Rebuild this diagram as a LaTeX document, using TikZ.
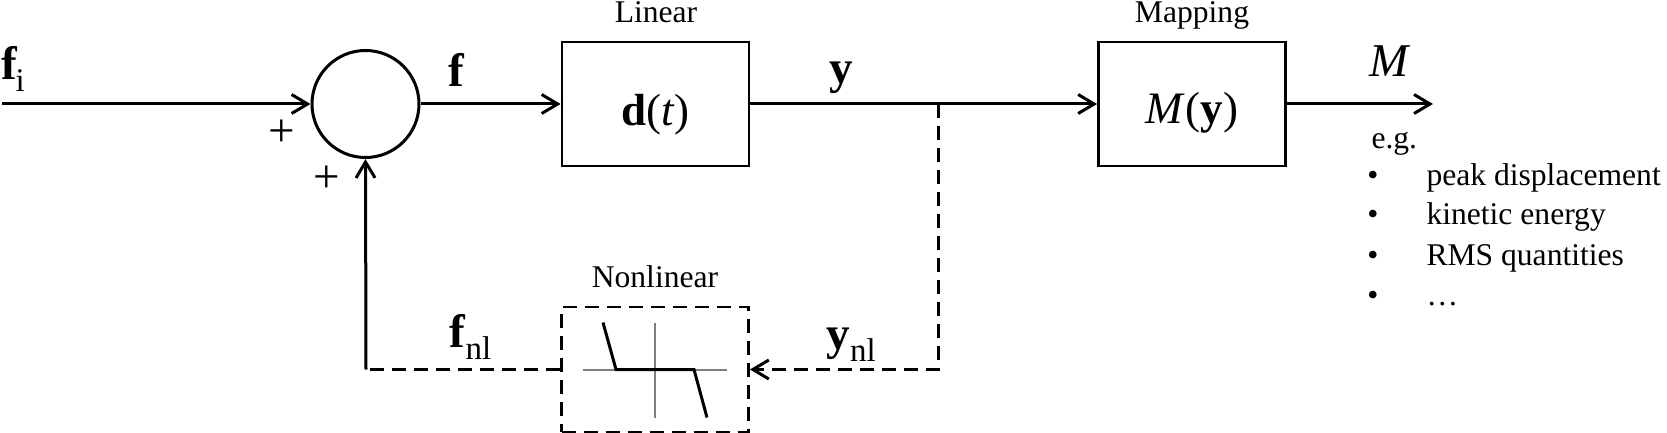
\documentclass[tikz,border=0pt]{standalone}
\usepackage{fontspec}
\setmainfont{Liberation Serif}
\usetikzlibrary{arrows.meta,calc}
\newcommand\labf{\fontsize{23.5}{27}\selectfont}
\newcommand\boxfont{\fontsize{22.5}{26}\selectfont}
\newcommand\txtf{\fontsize{15.8}{20}\selectfont}
\newcommand\subs[1]{\raisebox{-6pt}{\fontsize{16.5}{18}\selectfont\mdseries #1}}
\begin{document}
\begin{tikzpicture}[x=0.5pt,y=-0.5pt,
  line width=1.5pt,
  arr/.style={-{Straight Barb[length=8pt,width=9.5pt]}},
  blk/.style={draw,line width=1.4pt,rectangle,minimum width=93.5pt,minimum height=62pt,inner sep=0pt},
  dsh/.style={dash pattern=on 7pt off 4pt},
  txt/.style={inner sep=0pt,font=\txtf,anchor=base},
  lab/.style={inner sep=0pt,font=\labf,anchor=base}]
\useasboundingbox (0,0) rectangle (1667,433);

% nodes
\coordinate (in) at (2,104);
\node[draw,circle,minimum size=53.5pt,inner sep=0pt] (sum) at (365.5,104) {};
\node[blk] (lin) at (655.5,104) {};
\node[blk] (map) at (1192,104) {};
\node[blk,dsh,minimum height=62.5pt] (nl) at (655,369.5) {};
\coordinate (j) at (938,104);
\coordinate (out) at (1433,104);
\coordinate (c) at (366,369.5);

% box contents
\node[inner sep=0pt,font=\boxfont,anchor=base] (lint) at ([yshift=-11pt]lin.center) {\textbf{d}(\textit{t})};
\node[inner sep=0pt,font=\boxfont,anchor=base] (mapt) at ([yshift=-10pt]map.center) {\textit{M}(\textbf{y})};

% titles
\node[txt] (tlin) at (656,23) {Linear};
\node[txt] (tmap) at (1192,23) {Mapping};
\node[txt] (tnl) at (655,287) {Nonlinear};

% signal labels
\node[lab,anchor=base west] (lfi) at (0,80) {\textbf{f}\kern-1pt\subs{i}};
\node[lab] (lf) at (457,87) {\textbf{f}};
\node[lab] (ly) at (841,84) {\textbf{y}};
\node[lab] (lM) at (1390,77) {\textit{M}};
\node[lab,anchor=base west] (lfnl) at (448,347) {\textbf{f}\subs{nl}};
\node[lab,anchor=base west] (lynl) at (825,349) {\textbf{y}\subs{nl}};
\node[lab] (p1) at (282,147) {+};
\node[lab] (p2) at (327,192) {+};

% list
\node[txt,anchor=base west] (eg) at (1370,149) {e.g.};
\node[txt] (b1) at (1373,185) {\textbullet};
\node[txt] (b2) at (1373,225) {\textbullet};
\node[txt] (b3) at (1373,265) {\textbullet};
\node[txt] (b4) at (1373,305) {\textbullet};
\node[txt,anchor=base west] (i1) at (1425,185) {peak displacement};
\node[txt,anchor=base west] (i2) at (1425,225) {kinetic energy};
\node[txt,anchor=base west] (i3) at (1425,265) {RMS quantities};
\node[txt,anchor=base west] (i4) at (1425,305) {\dots};

% connectors
\draw[arr] (in) -- (sum.west);
\draw[arr] (sum.east) -- (lin.west);
\draw (lin.east) -- (j);
\draw[arr] (j) -- (map.west);
\draw[arr] (map.east) -- (out);
\draw[arr,dsh] (j) |- (nl.east);
\draw[dsh] (nl.west) -- (c);
\draw[arr] (c) -- (sum.south);

% nonlinearity icon
\begin{scope}[shift={(nl.center)}]
  \draw[gray,line width=1pt] (-72,0) -- (72,0);
  \draw[gray,line width=1pt] (0,-47) -- (0,48);
  \draw[line width=1.5pt] (-52,-47) -- (-39,0) -- (39,0) -- (52,48);
\end{scope}
\end{tikzpicture}
\end{document}
